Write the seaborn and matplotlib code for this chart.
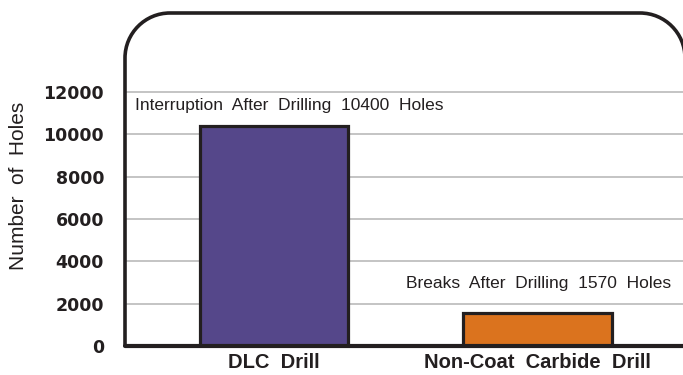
import numpy as np
import matplotlib.pyplot as plt
import seaborn as sns
import pandas as pd
from matplotlib.path import Path
from matplotlib.patches import PathPatch

# data
drills = ['DLC  Drill', 'Non-Coat  Carbide  Drill']
holes = [10400, 1570]
notes = ['Interruption  After  Drilling  10400  Holes',
         'Breaks  After  Drilling  1570  Holes']
bar_colors = ['#55478a', '#db731e']
yticks = [0, 2000, 4000, 6000, 8000, 10000, 12000]

df = pd.DataFrame({'drill': drills, 'holes': holes})

sns.set_style('white')
plt.rcParams['font.family'] = ['Liberation Sans', 'DejaVu Sans']

fig = plt.figure(figsize=(6.83, 3.75), dpi=100)
ax = fig.add_axes([125 / 683, 29 / 375, 560 / 683, 333 / 375])

sns.barplot(data=df, x='drill', y='holes', hue='drill', palette=bar_colors,
            saturation=1, width=0.563, edgecolor='#231f20', linewidth=2.3,
            legend=False, ax=ax, zorder=3)

ax.set_xlim(-0.567, 1.56)
ax.set_ylim(0, 15730)
ax.set_yticks(yticks)
ax.set_yticklabels([str(v) for v in yticks], fontweight='bold', fontsize=12.5,
                   family='DejaVu Sans', color='#231f20')
ax.yaxis.grid(True, color='#b4b4b4', linewidth=1.1, zorder=0)
ax.tick_params(axis='y', length=8.6, width=1.1, color='#b4b4b4', pad=6.5)
ax.tick_params(axis='x', length=0, pad=5)
for lab in ax.get_xticklabels():
    lab.set_fontweight('bold')
    lab.set_fontsize(14.5)
    lab.set_color('#231f20')
ax.set_xlabel('')
ax.set_ylabel('Number  of  Holes', fontsize=15, color='#231f20',
              va='center')
ax.yaxis.set_label_coords(-0.19, 0.48)

# frame: rounded top corners, square at the bottom (drawn in inches)
for s in ax.spines.values():
    s.set_visible(False)
pos = ax.get_position()
W, H = fig.get_size_inches()
L, R = pos.x0 * W, pos.x1 * W
B, T = pos.y0 * H, pos.y1 * H
r = 0.45
k = 0.5523 * r
verts = [(L, B), (L, T - r),
         (L, T - r + k), (L + r - k, T), (L + r, T),
         (R - r, T),
         (R - r + k, T), (R, T - r + k), (R, T - r),
         (R, B)]
codes = [Path.MOVETO, Path.LINETO,
         Path.CURVE4, Path.CURVE4, Path.CURVE4,
         Path.LINETO,
         Path.CURVE4, Path.CURVE4, Path.CURVE4,
         Path.LINETO]
fig.add_artist(PathPatch(Path(verts, codes), facecolor='none',
                         edgecolor='#231f20', linewidth=2.6,
                         transform=fig.dpi_scale_trans, zorder=5))
ax.axhline(0, color='#231f20', linewidth=3, zorder=7, clip_on=False)

# annotations above bars
offsets = [(11, 9), (1, 15.5)]
for i, (v, t) in enumerate(zip(holes, notes)):
    ax.annotate(t, xy=(i, v), xytext=offsets[i], textcoords='offset points',
                ha='center', va='bottom', fontsize=12.5, color='#231f20')

fig.savefig('out.png', dpi=100)
